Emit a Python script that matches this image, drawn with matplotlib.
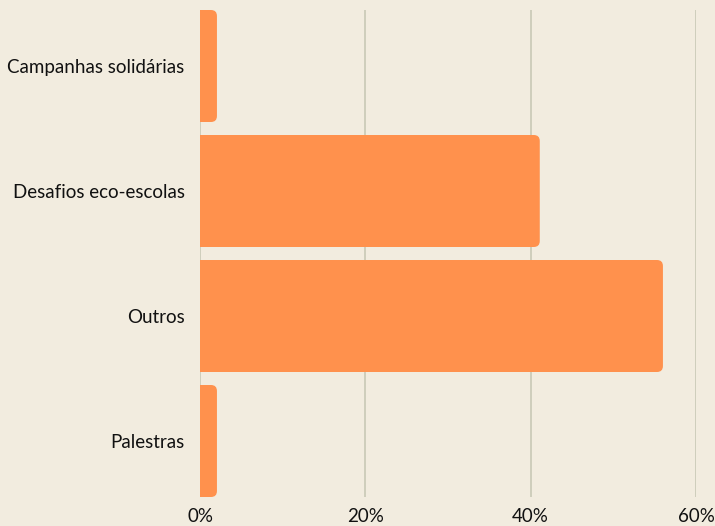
import matplotlib
matplotlib.use('Agg')
import matplotlib.pyplot as plt
from matplotlib.patches import FancyBboxPatch

categories = ['Campanhas solidárias', 'Desafios eco-escolas', 'Outros', 'Palestras']
values = [2.05, 41.1, 56.0, 2.05]
xticks = [0, 20, 40, 60]
xtick_labels = ['0%', '20%', '40%', '60%']

bg = '#F2ECDF'
bar_color = '#FF914D'
h = 0.896

plt.rcParams['font.family'] = ['Lato', 'DejaVu Sans']

fig = plt.figure(figsize=(7.15, 5.26), dpi=100, facecolor=bg)
ax = fig.add_axes([200 / 715, 29 / 526, 496 / 715, 487 / 526])
ax.set_facecolor(bg)

ax.set_xlim(0, 60)
ax.set_ylim(len(categories) - 1 + h / 2, -h / 2)

# rounded right ends: radius ~6 px, convert to data units on each axis
rx = 6 * 60 / 496
ry = 6 * 1 / 125
for i, v in enumerate(values):
    p = FancyBboxPatch((-5, i - h / 2), v + 5, h,
                       boxstyle='round,pad=0,rounding_size=%f' % rx,
                       mutation_aspect=ry / rx,
                       facecolor=bar_color, edgecolor='none', zorder=3)
    ax.add_patch(p)

ax.set_xticks(xticks)
ax.set_xticklabels(xtick_labels)
ax.set_yticks(range(len(categories)))
ax.set_yticklabels(categories)
ax.grid(axis='x', color='#C9C8B6', linewidth=1.2, zorder=0)
for s in ax.spines.values():
    s.set_visible(False)
ax.tick_params(axis='both', length=0, labelsize=13.5, colors='#111111')
ax.tick_params(axis='y', pad=11)
ax.tick_params(axis='x', pad=8)

fig.savefig('out.png', dpi=100, facecolor=bg)
